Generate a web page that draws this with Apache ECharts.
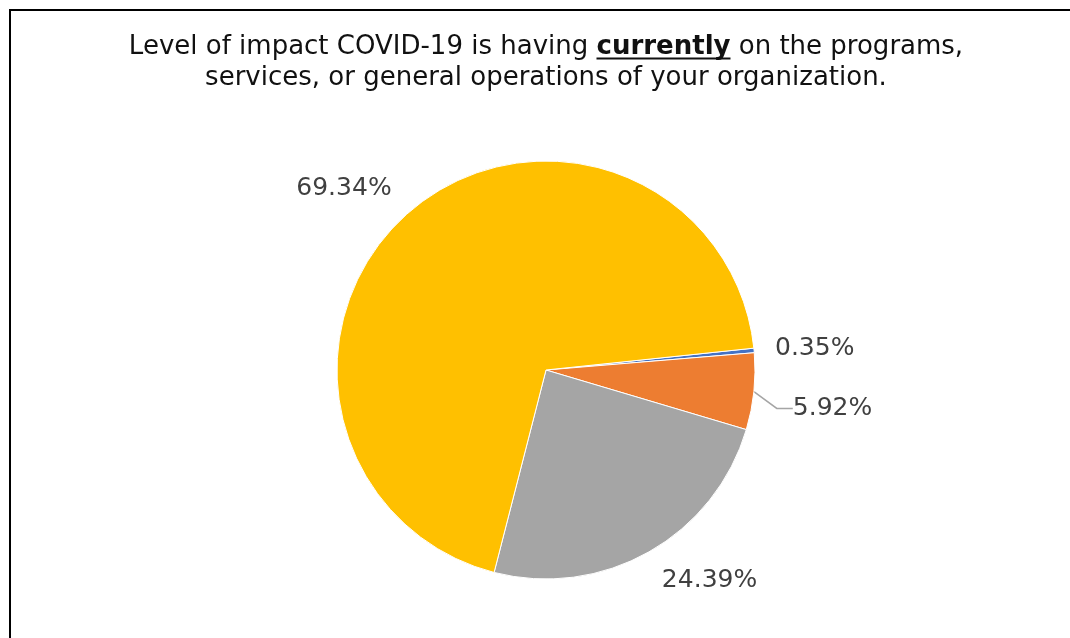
<!DOCTYPE html>
<html>
<head>
<meta charset="utf-8">
<script src="https://cdn.jsdelivr.net/npm/echarts@6/dist/echarts.min.js"></script>
<style>
  html, body { margin: 0; padding: 0; background: #fff; }
  #chart { width: 1070px; height: 638px; }
</style>
</head>
<body>
<div id="chart"></div>
<script>
// data
const categories = ["Level 1", "Level 2", "Level 3", "Level 4"];
const percents = [0.35, 5.92, 24.39, 69.34];
const colors = ["#4472C4", "#ED7D31", "#A5A5A5", "#FFC000"];
const showLeader = [false, true, false, false];

const titleStart = "Level of impact COVID-19 is having ";
const titleBold = "currently";
const titleEnd = " on the programs,";
const titleLine2 = "services, or general operations of your organization.";

const FONT = "DejaVu Sans";
const titleSize = 26;
const cx = 546;

// small nudges so labels land where Excel put them
const labelDx = [-18, 0, -17, 15];
const labelDy = [0, 15, 13, -10];

// measure the title pieces so the underline sits under the bold word
const ctx = document.createElement("canvas").getContext("2d");
const measure = (txt, weight) => {
  ctx.font = weight + " " + titleSize + "px '" + FONT + "'";
  return ctx.measureText(txt).width;
};
const wA = measure(titleStart, "normal");
const wB = measure(titleBold, "bold");
const wC = measure(titleEnd, "normal");
const lineLeft = cx - (wA + wB + wC) / 2;

const chart = echarts.init(document.getElementById("chart"));
chart.setOption({
  animation: false,
  textStyle: { fontFamily: FONT },
  graphic: [
    {
      type: "rect",
      shape: { x: 10, y: 10, width: 1200, height: 800 },
      style: { fill: "none", stroke: "#000", lineWidth: 2 },
      silent: true
    },
    {
      type: "text",
      x: cx, y: 47,
      style: {
        text: "{a|" + titleStart + "}{b|" + titleBold + "}{a|" + titleEnd + "}",
        align: "center", verticalAlign: "middle",
        rich: {
          a: { fontFamily: FONT, fontSize: titleSize, fill: "#111" },
          b: { fontFamily: FONT, fontSize: titleSize, fontWeight: "bold", fill: "#111" }
        }
      }
    },
    {
      type: "line",
      shape: { x1: lineLeft + wA, y1: 58.5, x2: lineLeft + wA + wB, y2: 58.5 },
      style: { stroke: "#111", lineWidth: 2 }
    },
    {
      type: "text",
      x: cx, y: 78,
      style: {
        text: titleLine2,
        align: "center", verticalAlign: "middle",
        fontFamily: FONT, fontSize: titleSize, fill: "#111"
      }
    }
  ],
  series: [
    {
      type: "pie",
      center: [546, 370],
      radius: 209,
      startAngle: 6,
      clockwise: true,
      avoidLabelOverlap: true,
      minShowLabelAngle: 0,
      itemStyle: { borderColor: "#fff", borderWidth: 1 },
      label: {
        show: true,
        position: "outside",
        formatter: (p) => p.value.toFixed(2) + "%",
        fontFamily: FONT,
        fontSize: 25,
        color: "#404040"
      },
      labelLine: {
        length: 18,
        length2: 16,
        lineStyle: { color: "#A5A5A5", width: 1.5 }
      },
      labelLayout: (p) => ({
        x: p.labelRect.x + labelDx[p.dataIndex],
        y: p.labelRect.y + labelDy[p.dataIndex],
        align: "left",
        verticalAlign: "top"
      }),
      data: percents.map((v, i) => ({
        name: categories[i],
        value: v,
        itemStyle: { color: colors[i] },
        labelLine: { show: showLeader[i] }
      }))
    }
  ]
});
</script>
</body>
</html>
